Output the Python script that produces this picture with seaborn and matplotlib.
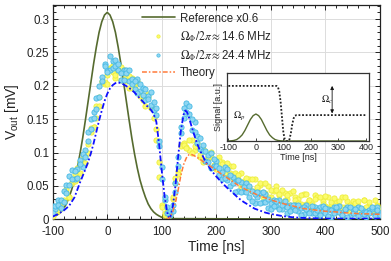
import matplotlib
matplotlib.use("Agg")
import matplotlib.pyplot as plt
import seaborn as sns
import pandas as pd
from matplotlib.lines import Line2D
from matplotlib.ticker import MultipleLocator, FuncFormatter

sns.set_style("whitegrid")
plt.rcParams['font.family'] = ['Liberation Sans', 'DejaVu Sans']
plt.rcParams['mathtext.fontset'] = 'stix'
plt.rcParams['axes.unicode_minus'] = False

# ---------------- data ----------------
# reference pulse, scaled x0.6
ref_t = [-100, -95, -90, -85, -80, -75, -70, -65, -60, -55, -50, -45, -40, -35, -30, -25, -20, -15, -10, -5,
         0, 5, 10, 15, 20, 25, 30, 35, 40, 45, 50, 55, 60, 65, 70, 75, 80, 85, 90, 95, 100, 110, 500]
ref_v = [.003, .005, .0075, .011, .016, .023, .033, .045, .059, .077, .098, .122, .149, .177, .205, .233, .258, .280, .296, .306,
         .310, .306, .296, .280, .258, .233, .205, .177, .149, .122, .098, .077, .059, .045, .033, .023, .016, .011, .0075, .005, .003, .001, 0.0]

# measured traces (two acquisitions per setting)
t_scatter = [-100, -95, -90, -85, -80, -75, -70, -65, -60, -55, -50, -45, -40, -35, -30, -25, -20, -15, -10, -5,
             0, 5, 10, 15, 20, 25, 30, 35, 40, 45, 50, 55, 60, 65, 70, 75, 80, 85, 90, 95,
             100, 105, 110, 115, 120, 125, 130, 135, 140, 145, 150, 155, 160, 165, 170, 175, 180, 185, 190, 195,
             200, 205, 210, 215, 220, 225, 230, 235, 240, 245, 250, 255, 260, 265, 270, 275, 280, 285, 290, 295,
             300, 305, 310, 315, 320, 325, 330, 335, 340, 345, 350, 355, 360, 365, 370, 375, 380, 385, 390, 395,
             400, 405, 410, 415, 420, 425, 430, 435, 440, 445, 450, 455, 460, 465, 470, 475, 480, 485, 490, 495, 500]

blue_a = [.020, .015, .029, .029, .026, .051, .052, .074, .061, .075,
          .089, .079, .104, .118, .150, .152, .182, .183, .213, .232,
          .224, .224, .237, .239, .224, .209, .224, .224, .207, .210,
          .195, .210, .192, .197, .178, .185, .190, .164, .156, .110,
          .078, .029, .018, .007, .021, .041, .093, .139, .152, .174,
          .157, .134, .145, .125, .106, .111, .088, .096, .100, .080,
          .087, .067, .071, .078, .059, .050, .063, .056, .042, .056,
          .042, .054, .034, .043, .025, .034, .039, .026, .038, .017,
          .025, .029, .020, .029, .015, .022, .010, .022, .018, .022,
          .013, .017, .008, .022, .013, .009, .018, .007, .019, .013,
          .009, .016, .004, .018, .011, .020, .007, .014, .018, .005,
          .015, .009, .019, .008, .012, .004, .014, .016, .007, .018,
          .010]
blue_b = [.010, .020, .021, .017, .042, .039, .065, .061, .073, .062,
          .083, .098, .093, .131, .136, .160, .165, .199, .207, .229,
          .220, .244, .227, .229, .232, .219, .209, .219, .223, .202,
          .207, .189, .203, .186, .195, .180, .171, .175, .167, .117,
          .061, .033, .009, .013, .013, .054, .080, .129, .167, .161,
          .169, .150, .131, .115, .122, .102, .102, .086, .077, .091,
          .080, .077, .061, .062, .076, .066, .054, .041, .059, .041,
          .048, .041, .050, .028, .038, .041, .024, .041, .026, .031,
          .016, .020, .028, .016, .022, .027, .018, .012, .021, .014,
          .022, .007, .018, .015, .010, .020, .010, .014, .006, .020,
          .017, .005, .014, .009, .018, .011, .007, .016, .004, .019,
          .010, .015, .005, .017, .008, .011, .009, .018, .005, .014,
          .007]
yel_a = [.005, .016, .012, .025, .027, .041, .033, .055, .068, .060,
         .086, .081, .097, .100, .131, .139, .169, .170, .207, .202,
         .216, .227, .220, .212, .224, .228, .208, .213, .196, .211,
         .196, .205, .189, .178, .185, .187, .167, .151, .136, .063,
         .021, .006, .011, .007, .030, .062, .073, .111, .114, .109,
         .104, .119, .104, .108, .094, .086, .103, .093, .093, .078,
         .080, .094, .086, .074, .063, .080, .062, .069, .061, .070,
         .047, .057, .060, .043, .060, .045, .051, .033, .039, .050,
         .033, .042, .050, .037, .026, .040, .030, .040, .019, .034,
         .031, .023, .038, .023, .029, .019, .037, .033, .015, .028,
         .020, .033, .022, .016, .027, .011, .034, .019, .027, .012,
         .028, .015, .020, .016, .029, .011, .022, .012, .009, .022,
         .016]
yel_b = [.013, .011, .021, .017, .029, .045, .034, .056, .058, .077,
         .069, .092, .085, .113, .137, .138, .152, .183, .206, .206,
         .203, .226, .231, .216, .222, .208, .224, .207, .214, .196,
         .204, .207, .184, .186, .170, .183, .168, .165, .119, .086,
         .018, .010, .011, .008, .033, .054, .068, .110, .112, .107,
         .119, .100, .110, .115, .097, .105, .088, .093, .101, .082,
         .075, .088, .083, .069, .084, .069, .080, .059, .067, .049,
         .057, .062, .049, .061, .040, .049, .054, .041, .054, .034,
         .044, .027, .044, .038, .044, .029, .036, .022, .043, .029,
         .024, .036, .020, .038, .029, .023, .031, .015, .033, .023,
         .035, .017, .026, .032, .013, .028, .019, .033, .016, .022,
         .010, .024, .027, .013, .029, .018, .026, .013, .029, .020,
         .009]

# theory curves
bth_t = [-100, -90, -80, -70, -60, -50, -40, -35, -30, -25, -20, -15, -10, -5, 0, 5, 10, 15, 20, 25, 30,
         40, 50, 60, 70, 75, 80, 85, 90, 95, 100, 105, 110, 113, 116, 120, 125, 130, 135, 140, 143,
         146, 150, 155, 160, 165, 170, 180, 190, 200, 210, 220, 230, 240, 250, 260, 270, 280, 290, 300, 320,
         340, 360, 400, 450, 500]
bth_v = [.004, .008, .013, .020, .033, .055, .075, .086, .099, .114, .131, .148, .163, .177, .188, .196, .201, .204, .205, .204, .202,
         .197, .190, .181, .172, .168, .164, .158, .146, .113, .072, .035, .010, .002, .004, .018, .050, .094, .133, .157, .163,
         .161, .152, .138, .125, .113, .103, .087, .074, .064, .055, .047, .040, .032, .026, .021, .016, .013, .010, .008, .005,
         .003, .002, .001, .001, .001]
oth_t = [108, 112, 115, 120, 125, 130, 135, 140, 145, 150, 155, 160, 170, 180, 190, 200, 220, 240, 260, 280, 300,
         320, 340, 360, 380, 400, 420, 440, 460, 480, 500]
oth_v = [.000, .001, .003, .011, .025, .044, .066, .082, .092, .097, .097, .095, .090, .084, .079, .073, .062, .051, .042, .035, .029,
         .024, .020, .016, .014, .012, .011, .0095, .0085, .008, .0075]

# inset: probe and control pulse shapes
in_tp = [-100, -90, -80, -70, -60, -50, -40, -30, -20, -10, 0, 10, 20, 30, 40, 50, 60, 70, 80, 90, 100, 400]
in_p = [0, .003, .01, .025, .06, .11, .19, .29, .39, .46, .49, .46, .39, .29, .19, .11, .06, .025, .01, .003, 0, 0]
in_tc = [-100, 75, 80, 85, 90, 95, 100, 105, 110, 118, 122, 127, 132, 137, 142, 148, 400]
in_c = [1, 1, .98, .9, .7, .42, .15, .03, 0, 0, .03, .14, .3, .41, .46, .47, .47]

# ---------------- figure ----------------
c_ref = '#566b2f'
c_yel_f, c_yel_e = '#fbfb6e', '#eeee3a'
c_blu_f, c_blu_e = '#8dd6f2', '#45b8e4'
c_bth = '#1010ff'
c_oth = '#ff7a3a'
dashdot = (0, (3.2, 1.3, 1.0, 1.3))

fig = plt.figure(figsize=(3.91, 2.61), dpi=100)
ax = fig.add_axes([0.1348, 0.1598, 0.837, 0.821])

sns.lineplot(x=ref_t, y=ref_v, ax=ax, color=c_ref, lw=1.2, zorder=2, sort=False)

df_y = pd.DataFrame({'t': t_scatter + t_scatter, 'v': yel_a + yel_b})
df_b = pd.DataFrame({'t': t_scatter + t_scatter, 'v': blue_a + blue_b})
sns.scatterplot(data=df_y, x='t', y='v', ax=ax, s=14, color=c_yel_f, edgecolor=c_yel_e,
                linewidth=0.6, zorder=3, legend=False)
sns.scatterplot(data=df_b, x='t', y='v', ax=ax, s=14, color=c_blu_f, edgecolor=c_blu_e,
                linewidth=0.6, zorder=4, legend=False)

sns.lineplot(x=bth_t, y=bth_v, ax=ax, color=c_bth, lw=1.3, linestyle=dashdot, zorder=5, sort=False)
sns.lineplot(x=oth_t, y=oth_v, ax=ax, color=c_oth, lw=1.1, linestyle=dashdot, zorder=5, sort=False)

ax.set_xlim(-100, 500)
ax.set_ylim(0, 0.321)
ax.xaxis.set_major_locator(MultipleLocator(100))
ax.xaxis.set_minor_locator(MultipleLocator(20))
ax.yaxis.set_major_locator(MultipleLocator(0.05))
ax.yaxis.set_minor_locator(MultipleLocator(0.01))
ax.yaxis.set_major_formatter(FuncFormatter(lambda v, p: '%g' % round(v, 3)))
ax.grid(which='major', color='#dcdcdc', lw=0.7)
ax.grid(which='minor', visible=False)
ax.tick_params(which='both', direction='in', top=True, right=True, bottom=True, left=True,
               width=0.7, colors='#222222', labelcolor='#222222', labelsize=8.3)
ax.tick_params(which='major', length=3.5)
ax.tick_params(which='minor', length=2)
ax.tick_params(axis='y', pad=2.5)
ax.tick_params(axis='x', pad=5)
for s in ax.spines.values():
    s.set_color('#222222')
    s.set_linewidth(0.9)
ax.set_xlabel('Time [ns]', fontsize=10, labelpad=1.5, color='#222222')
ax.set_ylabel(r'$\mathregular{V_{out}}$ [mV]', fontsize=10, labelpad=4, color='#222222')

handles = [
    Line2D([], [], color=c_ref, lw=1.2, label='Reference x0.6'),
    Line2D([], [], ls='none', marker='o', ms=2.4, mfc=c_yel_f, mec=c_yel_e, mew=0.5,
           label=r'$\Omega_\Phi/2\pi\approx$14.6 MHz'),
    Line2D([], [], ls='none', marker='o', ms=2.4, mfc=c_blu_f, mec=c_blu_e, mew=0.5,
           label=r'$\Omega_\Phi/2\pi\approx$24.4 MHz'),
    Line2D([], [], color=c_oth, lw=1.1, linestyle=dashdot, label='Theory'),
]
ax.legend(handles=handles, loc='upper left', bbox_to_anchor=(0.272, 0.965), frameon=False,
          fontsize=8.3, handlelength=2.9, handletextpad=0.4, labelspacing=0.4,
          borderpad=0, borderaxespad=0)

# ---------------- inset ----------------
axin = fig.add_axes([0.5798, 0.4598, 0.3647, 0.2617])
axin.set_facecolor('white')
axin.grid(False)
sns.lineplot(x=in_tp, y=in_p, ax=axin, color=c_ref, lw=1.0, sort=False)
sns.lineplot(x=in_tc, y=in_c, ax=axin, color='#222222', lw=1.3, linestyle=(0, (1, 1)), sort=False)
axin.set_xlim(-106, 412)
axin.set_ylim(0, 1.24)
axin.set_xticks([-100, 0, 100, 200, 300, 400])
axin.set_yticks([])
axin.tick_params(axis='x', direction='in', bottom=True, length=2, width=0.6, pad=1.5,
                 labelsize=6.5, colors='#222222')
for s in axin.spines.values():
    s.set_color('#333333')
    s.set_linewidth(0.9)
axin.set_xlabel('Time [ns]', fontsize=6.5, labelpad=1, color='#222222')
axin.set_ylabel('Signal [a.u.]', fontsize=6.5, labelpad=3, color='#222222')
axin.text(-82, 0.40, r'$\Omega_p$', fontsize=7, color='#222222')
axin.text(238, 0.70, r'$\Omega_c$', fontsize=7, color='#222222')
axin.annotate('', xy=(277, 1.0), xytext=(277, 0.5),
              arrowprops=dict(arrowstyle='<|-|>', color='#111111', lw=0.6, mutation_scale=5,
                              shrinkA=0, shrinkB=0))

fig.savefig('out.png', dpi=100)
